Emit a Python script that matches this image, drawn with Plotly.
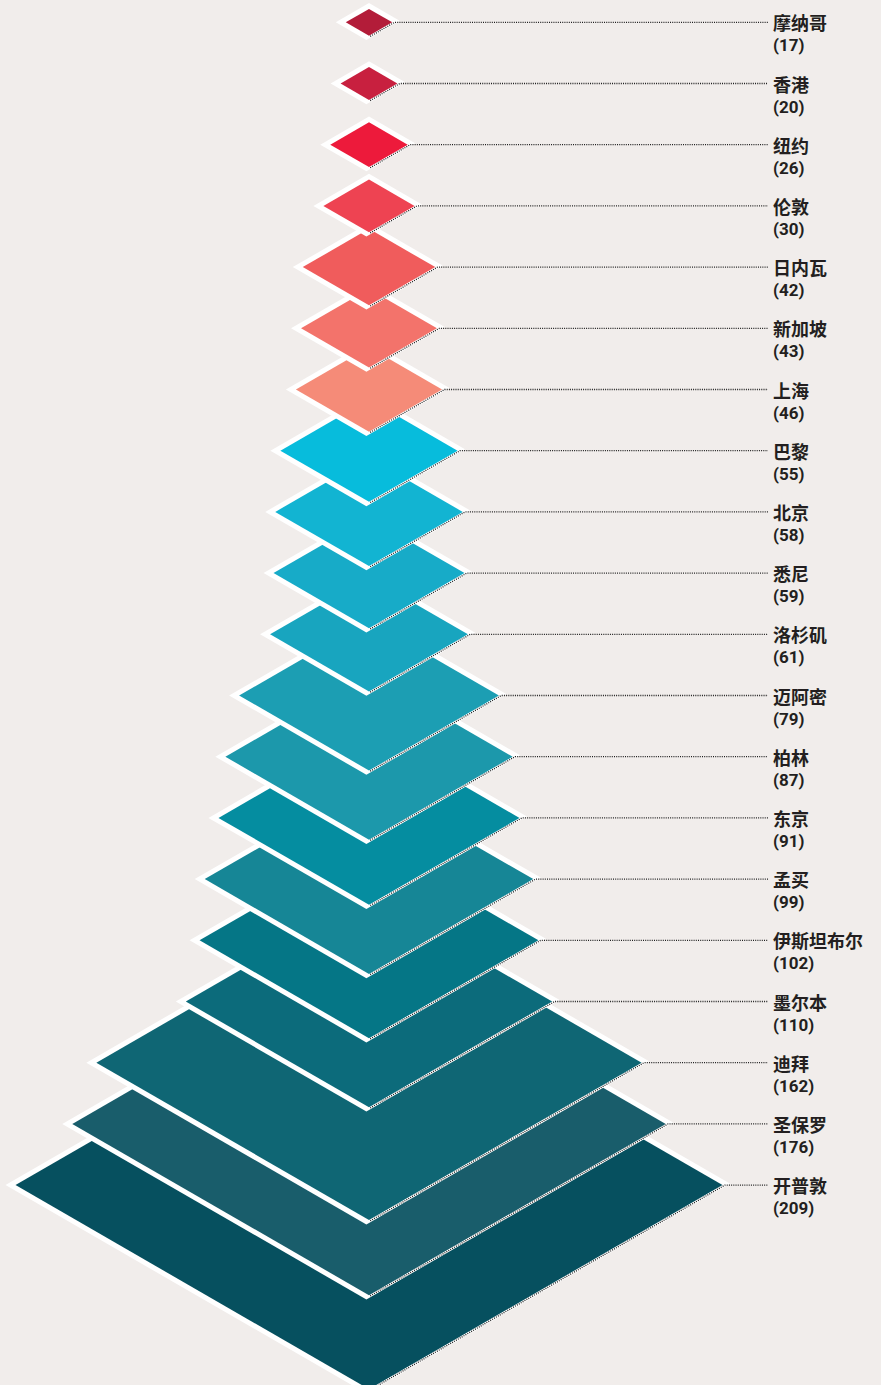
import numpy as np
import plotly.graph_objects as go

# City names, counts and fill colours (top to bottom)
cities = ["摩纳哥", "香港", "纽约", "伦敦", "日内瓦", "新加坡", "上海", "巴黎", "北京", "悉尼",
          "洛杉矶", "迈阿密", "柏林", "东京", "孟买", "伊斯坦布尔", "墨尔本", "迪拜", "圣保罗", "开普敦"]
values = [17, 20, 26, 30, 42, 43, 46, 55, 58, 59, 61, 79, 87, 91, 99, 102, 110, 162, 176, 209]
colors = ["#b31c39", "#c8203f", "#ed1a3b", "#ee4352", "#f05c5c", "#f3736b", "#f58b78",
          "#07bcdc", "#12b4d2", "#17abc8", "#18a5bf", "#1c9eb3", "#1c98ab", "#058da0",
          "#168696", "#057686", "#0c6b7b", "#0f6674", "#195d6b", "#06505f"]

# Page geometry
W, H = 881, 1385
CX = 369.0          # horizontal centre of the stack (px)
K = 1.72            # px per unit of value (diamond half-width)
ROW = 61.2          # px between rows
Y0 = 22.3           # px of the first row
T = np.tan(np.radians(30))
LABEL_X = 771.0
LINE_END = 768.0
BG = "#f1edeb"
INK = "#231f20"
LEADER = "#1e1e1e"


def px_to_x(px):
    return px / K


def px_to_row(py):
    return py / ROW


def diamond(s, d_tl, d_tr, d_bl, d_br):
    """Vertices (px, relative to centre, y down) of an isometric diamond of
    half-width s whose four edges are pushed out by the given offsets."""
    hw, hh = s, s * T
    L = np.hypot(hw, hh)
    c = hw * hh / L
    n = {
        "tr": np.array([hh, -hw]) / L,
        "br": np.array([hh, hw]) / L,
        "tl": np.array([-hh, -hw]) / L,
        "bl": np.array([-hh, hw]) / L,
    }
    d = {"tl": d_tl, "tr": d_tr, "bl": d_bl, "br": d_br}

    def meet(a, b):
        A = np.vstack([n[a], n[b]])
        return np.linalg.solve(A, np.array([c + d[a], c + d[b]]))

    return [meet("tl", "tr"), meet("tr", "br"), meet("bl", "br"), meet("tl", "bl")]


fig = go.Figure()

# Largest diamond first so the smaller ones sit on top
for i in range(len(values) - 1, -1, -1):
    v, col = values[i], colors[i]
    s = K * v

    def to_data(pts):
        xs = [px_to_x(p[0]) for p in pts] + [px_to_x(pts[0][0])]
        ys = [i + px_to_row(p[1]) for p in pts] + [i + px_to_row(pts[0][1])]
        return xs, ys

    # white rim
    wx, wy = to_data(diamond(s, 2.0, 2.0, 2.0, -0.6))
    fig.add_trace(go.Scatter(x=wx, y=wy, mode="lines", fill="toself", fillcolor="white",
                             line=dict(width=0, color="white"), hoverinfo="skip", showlegend=False))
    # coloured face
    cx_, cy_ = to_data(diamond(s, -3.0, -3.0, -3.0, -3.0))
    fig.add_trace(go.Scatter(x=cx_, y=cy_, mode="lines", fill="toself", fillcolor=col,
                             line=dict(width=0, color=col), hoverinfo="skip", showlegend=False))

    # dotted leader: along the lower-right edge, then out to the label
    hw, hh = s, s * T
    L = np.hypot(hw, hh)
    c = hw * hh / L
    n_br = np.array([hh, hw]) / L
    n_bl = np.array([-hh, hw]) / L
    bottom = np.linalg.solve(np.vstack([n_br, n_bl]), np.array([c - 1.8, c - 3.0]))
    right_x = (c - 1.8) * L / hh
    lx = [px_to_x(bottom[0]), px_to_x(right_x), px_to_x(LINE_END - CX)]
    ly = [i + px_to_row(bottom[1]), i, i]
    fig.add_trace(go.Scatter(x=lx, y=ly, mode="lines",
                             line=dict(width=1.3, color=LEADER, dash="1px,1.2px"),
                             hoverinfo="skip", showlegend=False))

# Labels: city name and count
ann = []
for i, (name, v) in enumerate(zip(cities, values)):
    ann.append(dict(x=px_to_x(LABEL_X - CX), y=i, xref="x", yref="y", text=f"<b>{name}</b>",
                    showarrow=False, xanchor="left", yanchor="middle",
                    font=dict(family="Noto Sans CJK SC", size=18, color=INK)))
    ann.append(dict(x=px_to_x(LABEL_X - CX), y=i + px_to_row(23), xref="x", yref="y",
                    text=f"<b>({v})</b>", showarrow=False, xanchor="left", yanchor="middle",
                    font=dict(family="Roboto, sans-serif", size=17, color=INK)))

fig.update_layout(
    width=W, height=H,
    margin=dict(l=0, r=0, t=0, b=0),
    paper_bgcolor=BG, plot_bgcolor=BG,
    annotations=ann,
    xaxis=dict(range=[px_to_x(-CX), px_to_x(W - CX)], visible=False, fixedrange=True),
    yaxis=dict(range=[px_to_row(H - Y0), px_to_row(-Y0)], visible=False, fixedrange=True),
    showlegend=False,
)

fig.write_html("out.html", config={"displayModeBar": False})
